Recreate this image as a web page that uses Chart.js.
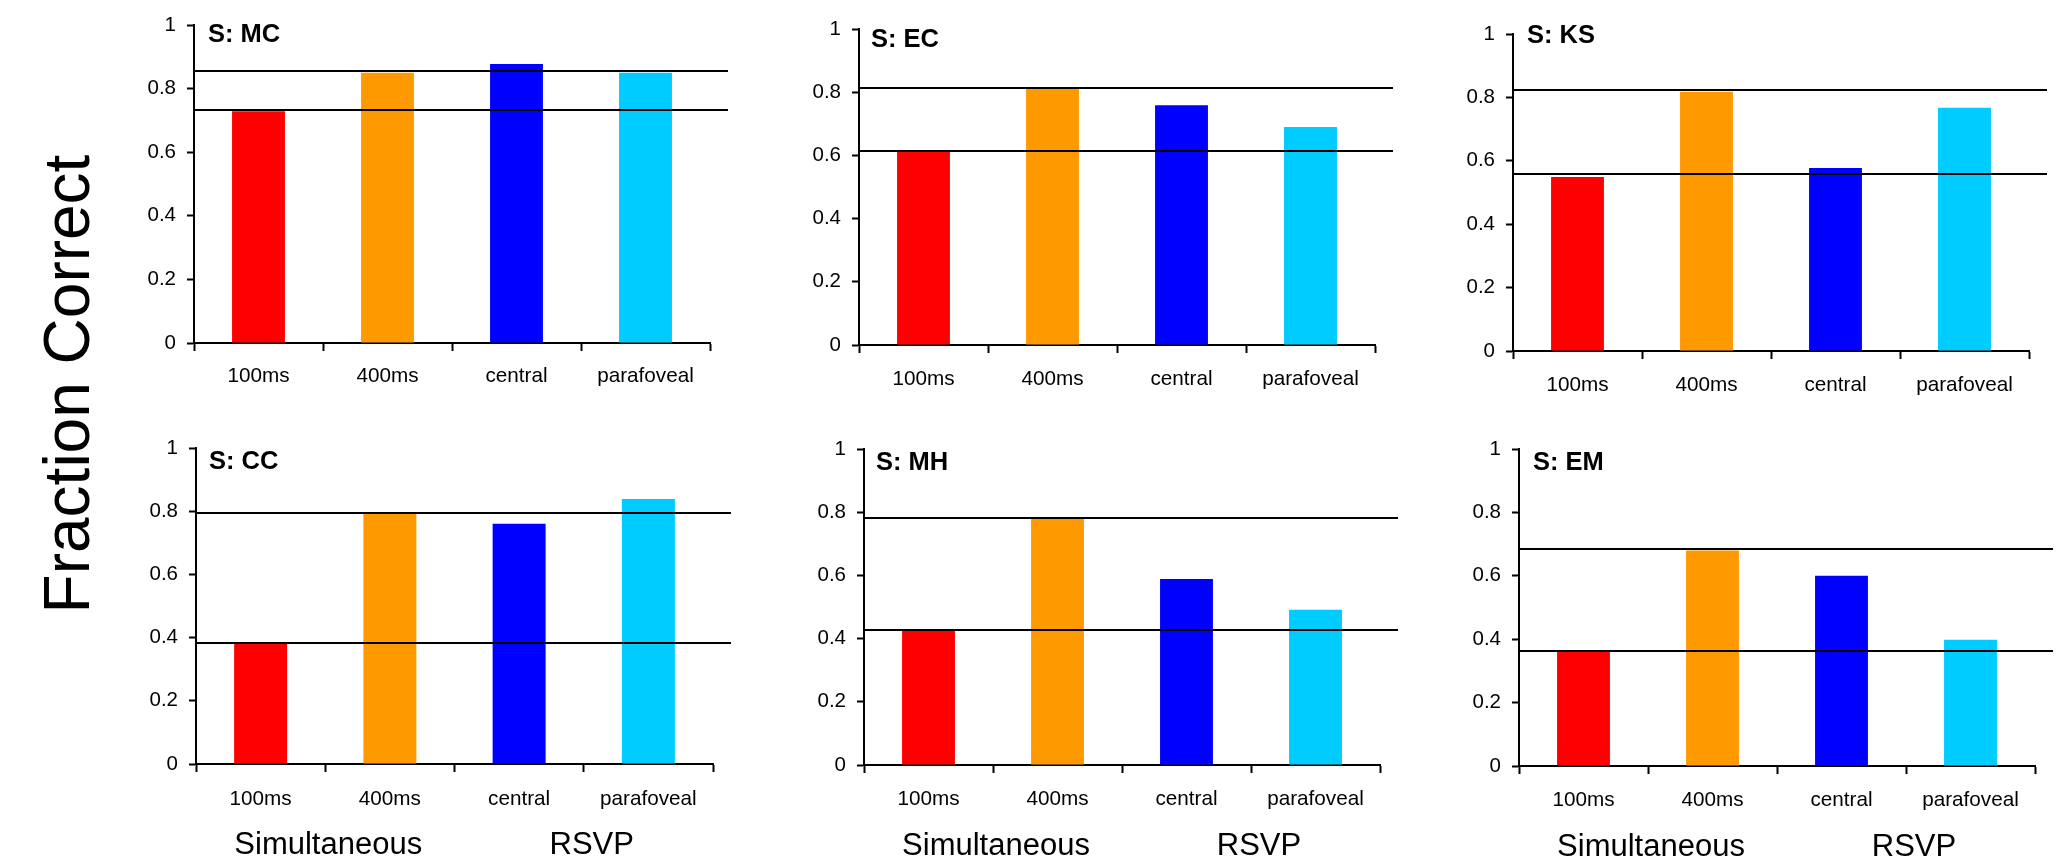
<!DOCTYPE html>
<html>
<head>
<meta charset="utf-8">
<script src="https://cdn.jsdelivr.net/npm/chart.js@4.4.1/dist/chart.umd.min.js"></script>
<style>
  html, body { margin: 0; padding: 0; background: #fff; width: 2072px; height: 866px; overflow: hidden; }
  #stage { position: relative; width: 2072px; height: 866px; }
  #stage canvas { position: absolute; }
  #ylab {
    position: absolute; left: 67px; top: 384px;
    font-family: "Liberation Sans", Arial, sans-serif; font-size: 64px; line-height: 1;
    white-space: nowrap; color: #000;
    transform: translate(-50%, -50%) rotate(-90deg);
  }
</style>
</head>
<body>
<div id="stage"><div id="ylab">Fraction Correct</div></div>
<script>
// Conditions and their bar colours
const categories = ['100ms', '400ms', 'central', 'parafoveal'];
const barColors = ['#ff0000', '#ff9900', '#0000ff', '#00ccff'];
const yTickLabels = ['0', '0.2', '0.4', '0.6', '0.8', '1'];
const groupLabels = ['Simultaneous', 'RSVP'];
const subjects = ['S: MC', 'S: EC', 'S: KS', 'S: CC', 'S: MH', 'S: EM'];

// Fraction correct per subject, one value per condition
const scoresMC = [0.729, 0.850, 0.877, 0.850];
const scoresEC = [0.612, 0.810, 0.759, 0.690];
const scoresKS = [0.549, 0.818, 0.577, 0.767];
const scoresCC = [0.380, 0.792, 0.760, 0.839];
const scoresMH = [0.424, 0.781, 0.589, 0.491];
const scoresEM = [0.361, 0.680, 0.600, 0.398];

// Horizontal reference levels (simultaneous 400ms / 100ms) per subject
const levelsMC = [0.854, 0.734];
const levelsEC = [0.814, 0.615];
const levelsKS = [0.824, 0.557];
const levelsCC = [0.794, 0.383];
const levelsMH = [0.782, 0.427];
const levelsEM = [0.683, 0.364];

const scoreSets = [scoresMC, scoresEC, scoresKS, scoresCC, scoresMH, scoresEM];
const levelSets = [levelsMC, levelsEC, levelsKS, levelsCC, levelsMH, levelsEM];

// Plot-area placement of each panel on the page
const panelLayout = [
  { left: 194, top: 25,  right: 710,  bottom: 343, titleX: 14, titleBase: 42,  catPad: 13, groups: false },
  { left: 859, top: 29,  right: 1375, bottom: 345, titleX: 12, titleBase: 47,  catPad: 14, groups: false },
  { left: 1513, top: 34, right: 2029, bottom: 351, titleX: 14, titleBase: 43,  catPad: 14, groups: false },
  { left: 196, top: 448, right: 713,  bottom: 764, titleX: 13, titleBase: 469, catPad: 15, groups: true },
  { left: 864, top: 449, right: 1380, bottom: 765, titleX: 12, titleBase: 470, catPad: 14, groups: true },
  { left: 1519, top: 449, right: 2035, bottom: 766, titleX: 14, titleBase: 470, catPad: 14, groups: true }
];

const FONT = '"Liberation Sans", Arial, sans-serif';
const TICK_FONT = 20.5, CAT_FONT = 20.7;
const Y_AXIS_W = 70, PAD_T = 30, PAD_R = 30;

// Horizontal reference lines drawn over the bars
const refLinePlugin = {
  id: 'refLines',
  afterDatasetsDraw(chart, args, opts) {
    const { ctx, chartArea, scales } = chart;
    ctx.save();
    ctx.strokeStyle = '#000';
    ctx.lineWidth = 2;
    opts.values.forEach(v => {
      const py = Math.round(scales.y.getPixelForValue(v));
      ctx.beginPath();
      ctx.moveTo(chartArea.left, py);
      ctx.lineTo(chartArea.right + opts.extend, py);
      ctx.stroke();
    });
    ctx.restore();
  }
};

// Subject name in the upper-left corner of each panel
const panelTitlePlugin = {
  id: 'panelTitle',
  afterDraw(chart, args, opts) {
    const { ctx, chartArea } = chart;
    ctx.save();
    ctx.fillStyle = '#000';
    ctx.font = 'bold 25.5px ' + FONT;
    ctx.textAlign = 'left';
    ctx.textBaseline = 'alphabetic';
    ctx.fillText(opts.text, chartArea.left + opts.dx, chartArea.top + opts.dy);
    ctx.restore();
  }
};

// Group names under the condition labels
const groupNamePlugin = {
  id: 'groupNames',
  afterDraw(chart, args, opts) {
    if (!opts.show) return;
    const { ctx, chartArea, scales } = chart;
    const x = scales.x;
    const c1 = (x.getPixelForValue(0) + x.getPixelForValue(1)) / 2 + 3;
    const c2 = (x.getPixelForValue(2) + x.getPixelForValue(3)) / 2 + 8;
    ctx.save();
    ctx.fillStyle = '#000';
    ctx.font = '31px ' + FONT;
    ctx.textAlign = 'center';
    ctx.textBaseline = 'alphabetic';
    ctx.fillText(groupLabels[0], c1, chartArea.bottom + 90);
    ctx.fillText(groupLabels[1], c2, chartArea.bottom + 90);
    ctx.restore();
  }
};

const stage = document.getElementById('stage');

panelLayout.forEach((p, i) => {
  const bottomSpace = p.groups ? 100 : 60;
  const plotW = p.right - p.left;
  const plotH = p.bottom - p.top;
  const canvas = document.createElement('canvas');
  canvas.width = plotW + Y_AXIS_W + PAD_R;
  canvas.height = plotH + PAD_T + bottomSpace;
  canvas.style.left = (p.left - Y_AXIS_W) + 'px';
  canvas.style.top = (p.top - PAD_T) + 'px';
  canvas.style.width = canvas.width + 'px';
  canvas.style.height = canvas.height + 'px';
  stage.appendChild(canvas);

  new Chart(canvas, {
    type: 'bar',
    data: {
      labels: categories,
      datasets: [{
        data: scoreSets[i],
        backgroundColor: barColors,
        borderWidth: 0,
        barPercentage: 0.41,
        categoryPercentage: 1.0
      }]
    },
    options: {
      responsive: false,
      animation: false,
      devicePixelRatio: 1,
      layout: { padding: { left: 0, top: PAD_T, right: PAD_R, bottom: 0 } },
      plugins: {
        legend: { display: false },
        tooltip: { enabled: false },
        refLines: { values: levelSets[i], extend: 18 },
        panelTitle: { text: subjects[i], dx: p.titleX, dy: p.titleBase - p.top },
        groupNames: { show: p.groups }
      },
      scales: {
        x: {
          type: 'category',
          offset: true,
          grid: {
            offset: true, drawOnChartArea: false, drawTicks: true,
            tickLength: 8, tickWidth: 2, tickColor: '#000', color: '#000'
          },
          border: { display: true, color: '#000', width: 2 },
          ticks: {
            color: '#000', padding: p.catPad, maxRotation: 0, autoSkip: false,
            font: { family: FONT, size: CAT_FONT }
          },
          afterFit(s) { s.height = bottomSpace; }
        },
        y: {
          min: 0, max: 1,
          grid: {
            drawOnChartArea: false, drawTicks: true,
            tickLength: 7, tickWidth: 2, tickColor: '#000', color: '#000'
          },
          border: { display: true, color: '#000', width: 2 },
          ticks: {
            stepSize: 0.2, color: '#000', padding: 11,
            font: { family: FONT, size: TICK_FONT },
            callback: (v, idx) => yTickLabels[idx]
          },
          afterFit(s) { s.width = Y_AXIS_W; }
        }
      }
    },
    plugins: [refLinePlugin, panelTitlePlugin, groupNamePlugin]
  });
});
</script>
</body>
</html>
